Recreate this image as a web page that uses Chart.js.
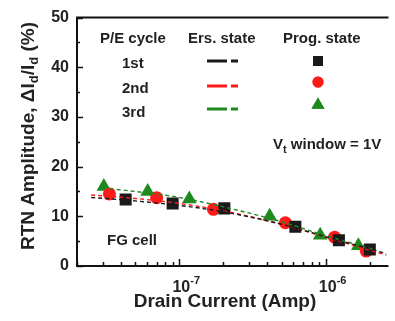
<!DOCTYPE html>
<html>
<head>
<meta charset="utf-8">
<script src="https://cdn.jsdelivr.net/npm/chart.js@4.4.1/dist/chart.umd.min.js"></script>
<style>
html,body{margin:0;padding:0;background:#fff;}
#wrap{width:395px;height:321px;position:relative;}
</style>
</head>
<body>
<div id="wrap"><canvas id="c" width="395" height="321"></canvas></div>
<script>
// ---- data ----
const cycles = ['1st', '2nd', '3rd'];
// Prog. state measurements (markers)
const progX1 = [4.3e-8, 9.0e-8, 2.03e-7, 6.2e-7, 1.23e-6, 2.0e-6];
const progY1 = [13.4, 12.6, 11.6, 7.9, 5.2, 3.3];
const progX2 = [3.33e-8, 7.0e-8, 1.71e-7, 5.3e-7, 1.15e-6, 1.89e-6];
const progY2 = [14.5, 13.75, 11.4, 8.7, 5.8, 3.0];
const progX3 = [3.05e-8, 6.08e-8, 1.17e-7, 4.14e-7, 9.16e-7, 1.67e-6];
const progY3 = [16.0, 15.0, 13.5, 10.0, 6.2, 4.1];
// Ers. state (dashed curves)
const ersX1 = [2.5e-8, 5e-8, 1e-7, 2e-7, 5e-7, 1e-6, 2.6e-6];
const ersY1 = [13.8, 13.1, 12.2, 10.9, 8.4, 5.9, 2.5];
const ersX2 = [2.5e-8, 5e-8, 1e-7, 2e-7, 5e-7, 1e-6, 2.6e-6];
const ersY2 = [14.3, 13.6, 12.6, 11.1, 8.4, 5.8, 2.2];
const ersX3 = [3e-8, 5e-8, 1e-7, 2e-7, 5e-7, 1e-6, 2.2e-6];
const ersY3 = [15.7, 15.0, 13.8, 11.9, 8.9, 6.1, 3.2];
// axes
const yTicks = [0, 10, 20, 30, 40, 50];
const xMajorTicks = [1e-7, 1e-6];
const xTickLabels = [['10', '-7'], ['10', '-6']];

const colors = ['#1a1a1a', '#ff1a1a', '#1e8a1e'];
const shapes = ['rect', 'circle', 'triangle'];
const radii = [8.5, 6.5, 8.5];

const FONT = '"Liberation Sans", Arial, Helvetica, sans-serif';
const TXT = '#222';

function pts(xs, ys) { return xs.map((x, i) => ({x: x, y: ys[i]})); }

const ersSets = [[ersX1, ersY1], [ersX2, ersY2], [ersX3, ersY3]];
const progSets = [[progX1, progY1], [progX2, progY2], [progX3, progY3]];

const datasets = [];
ersSets.forEach((s, i) => datasets.push({
  label: 'Ers. ' + cycles[i], data: pts(s[0], s[1]), showLine: true,
  borderColor: colors[i], borderWidth: 1.4, borderDash: [4, 3],
  pointRadius: 0, tension: 0.4, cubicInterpolationMode: 'monotone', fill: false
}));
progSets.forEach((s, i) => datasets.push({
  label: 'Prog. ' + cycles[i], data: pts(s[0], s[1]), showLine: false,
  pointStyle: shapes[i], pointRadius: radii[i], pointBackgroundColor: colors[i],
  pointBorderColor: colors[i], pointBorderWidth: 0
}));

function rich(ctx, parts, x, y, align) {
  let total = 0;
  parts.forEach(p => { ctx.font = 'bold ' + p[1] + 'px ' + FONT; total += ctx.measureText(p[0]).width; });
  let cx = align === 'center' ? x - total / 2 : x;
  ctx.textAlign = 'left';
  parts.forEach(p => {
    ctx.font = 'bold ' + p[1] + 'px ' + FONT;
    ctx.fillText(p[0], cx, y + (p[2] || 0));
    cx += ctx.measureText(p[0]).width;
  });
}

const decor = {
  id: 'decor',
  afterDraw(chart) {
    const ctx = chart.ctx, a = chart.chartArea;
    const xs = chart.scales.x, ys = chart.scales.y;
    ctx.save();
    ctx.strokeStyle = '#111';
    ctx.lineWidth = 2;
    ctx.beginPath();
    ctx.moveTo(a.right + 2, a.top); ctx.lineTo(a.left, a.top);
    ctx.lineTo(a.left, a.bottom); ctx.lineTo(a.right + 2, a.bottom);
    ctx.stroke();
    // x ticks (inward)
    ctx.lineWidth = 1.5;
    ctx.beginPath();
    for (let e = -8; e <= -6; e++) {
      for (let k = 1; k <= 9; k++) {
        const v = k * Math.pow(10, e);
        if (v < xs.min || v > xs.max) continue;
        const px = Math.round(xs.getPixelForValue(v)) + 0.5;
        const len = k === 1 ? 7 : 4;
        ctx.moveTo(px, a.bottom); ctx.lineTo(px, a.bottom - len);
      }
    }
    // y ticks (inward)
    for (let v = 0; v <= 50; v += 5) {
      const py = Math.round(ys.getPixelForValue(v)) + 0.5;
      const len = v % 10 === 0 ? 6 : 3;
      ctx.moveTo(a.left, py); ctx.lineTo(a.left + len, py);
    }
    ctx.stroke();
    ctx.fillStyle = TXT;
    ctx.textBaseline = 'alphabetic';
    // x tick labels
    xMajorTicks.forEach((v, i) => {
      const px = xs.getPixelForValue(v);
      ctx.font = 'bold 16px ' + FONT;
      const w = ctx.measureText(xTickLabels[i][0]).width;
      rich(ctx, [[xTickLabels[i][0], 16, 0], [xTickLabels[i][1], 11, -8]], px + 2 - w / 2, 292, 'left');
    });
    // x title
    ctx.font = 'bold 19px ' + FONT;
    ctx.textAlign = 'center';
    ctx.fillText('Drain Current (Amp)', 225, 307);
    // y title
    ctx.save();
    ctx.translate(34, 136);
    ctx.rotate(-Math.PI / 2);
    rich(ctx, [['RTN Amplitude, \u0394I', 19, 0], ['d', 13, 4], ['/I', 19, 0], ['d', 13, 4], [' (%)', 19, 0]], 0, 0, 'center');
    ctx.restore();
    // legend header
    ctx.font = 'bold 15px ' + FONT;
    ctx.textAlign = 'left';
    ctx.fillText('P/E cycle', 100, 43);
    ctx.fillText('Ers. state', 188, 43);
    ctx.fillText('Prog. state', 283, 43);
    const rowText = [68, 93, 117];
    const rowDash = [61, 86, 109];
    const rowMark = [61, 82, 105];
    cycles.forEach((c, i) => {
      ctx.fillStyle = TXT;
      ctx.font = 'bold 15px ' + FONT;
      ctx.fillText(c, 122, rowText[i]);
      ctx.strokeStyle = colors[i];
      ctx.lineWidth = 3;
      ctx.beginPath();
      ctx.moveTo(207, rowDash[i]); ctx.lineTo(227, rowDash[i]);
      ctx.moveTo(231, rowDash[i]); ctx.lineTo(238, rowDash[i]);
      ctx.stroke();
      ctx.fillStyle = colors[i];
      Chart.helpers.drawPoint(ctx, {pointStyle: shapes[i], radius: [7, 5.5, 7.5][i], borderWidth: 0}, 318, rowMark[i]);
      ctx.fill();
    });
    ctx.fillStyle = TXT;
    rich(ctx, [['V', 15, 0], ['t', 11, 4], [' window = 1V', 15, 0]], 273, 149, 'left');
    rich(ctx, [['FG cell', 15, 0]], 107, 245, 'left');
    ctx.restore();
  }
};

new Chart(document.getElementById('c'), {
  type: 'line',
  data: {datasets: datasets},
  options: {
    responsive: false, animation: false, devicePixelRatio: 1,
    layout: {padding: {top: 14, right: 0, left: 0, bottom: 0}},
    plugins: {legend: {display: false}, tooltip: {enabled: false}},
    scales: {
      x: {
        type: 'logarithmic', min: 2e-8, max: 2.6e-6,
        grid: {display: false, drawTicks: false}, border: {display: false},
        ticks: {display: false},
        afterFit(s) { s.height = 55; }
      },
      y: {
        type: 'linear', min: 0, max: 50,
        afterBuildTicks(s) { s.ticks = yTicks.map(v => ({value: v})); },
        grid: {display: false, drawTicks: false}, border: {display: false},
        ticks: {color: TXT, padding: 8, font: {family: FONT, size: 16, weight: 'bold'}},
        afterFit(s) { s.width = 77; }
      }
    }
  },
  plugins: [decor]
});
</script>
</body>
</html>
